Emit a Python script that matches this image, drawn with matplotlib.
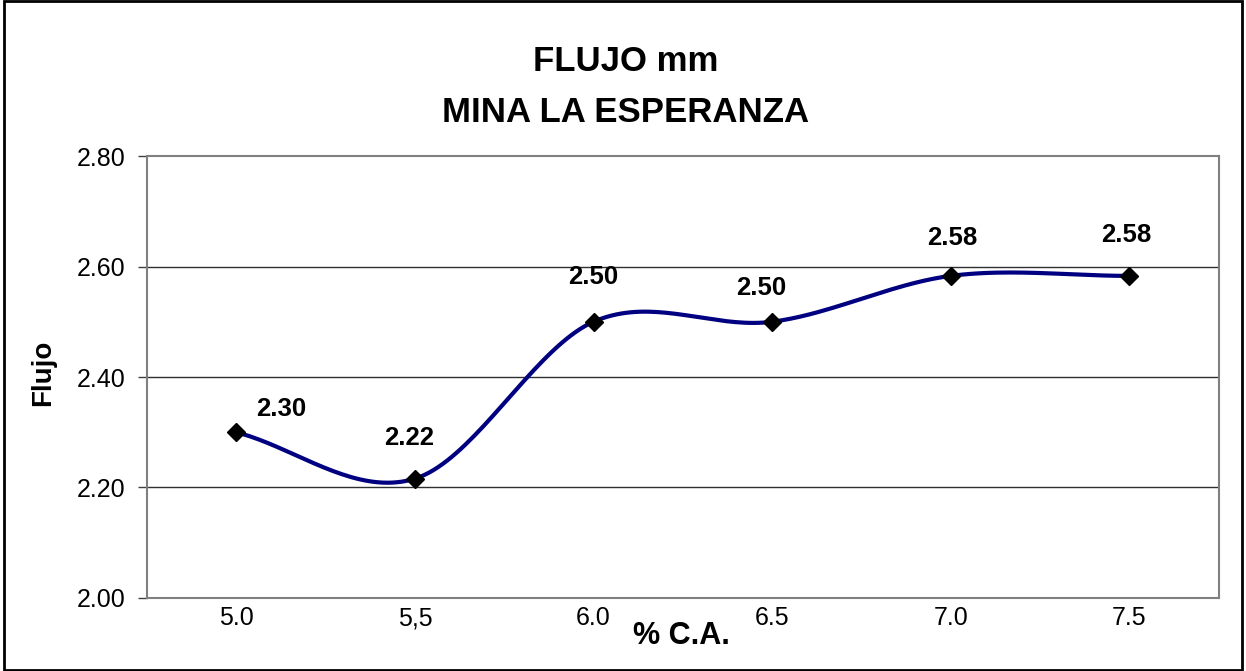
import numpy as np
import matplotlib
matplotlib.use("Agg")
import matplotlib.pyplot as plt
from matplotlib.patches import Rectangle

plt.rcParams['font.family'] = ['Liberation Sans', 'DejaVu Sans']

# data: flow vs asphalt content
categorias = ['5.0', '5,5', '6.0', '6.5', '7.0', '7.5']
flujo = [2.30, 2.216, 2.50, 2.50, 2.583, 2.583]
etiquetas = ['2.30', '2.22', '2.50', '2.50', '2.58', '2.58']
# label offsets in points (dx, dy)
desplaz = [(32, 17), (-4, 29), (0, 32), (-8, 24), (1, 27), (-2.5, 29.5)]


def catmull_rom(x, y, n=40):
    # smooth curve through every point, like the spreadsheet "smoothed line"
    x = np.asarray(x, float)
    y = np.asarray(y, float)
    px = np.concatenate([[2 * x[0] - x[1]], x, [2 * x[-1] - x[-2]]])
    py = np.concatenate([[2 * y[0] - y[1]], y, [2 * y[-1] - y[-2]]])
    xs, ys = [], []
    t = np.linspace(0, 1, n)
    for i in range(1, len(px) - 2):
        for p, out in ((px, xs), (py, ys)):
            p0, p1, p2, p3 = p[i - 1], p[i], p[i + 1], p[i + 2]
            out.extend(0.5 * ((2 * p1) + (-p0 + p2) * t
                              + (2 * p0 - 5 * p1 + 4 * p2 - p3) * t ** 2
                              + (-p0 + 3 * p1 - 3 * p2 + p3) * t ** 3))
    return np.array(xs), np.array(ys)


fig = plt.figure(figsize=(12.46, 6.71), dpi=100)
ax = fig.add_axes([0.118, 0.1088, 0.860, 0.6587])

x = np.arange(len(categorias))
sx, sy = catmull_rom(x, flujo)
ax.plot(sx, sy, color='#000080', lw=3, zorder=3, solid_capstyle='round')
ax.plot(x, flujo, ls='none', marker='D', ms=9, color='black', zorder=4)

for xi, yi, txt, (dx, dy) in zip(x, flujo, etiquetas, desplaz):
    ax.annotate(txt, (xi, yi), xytext=(dx, dy), textcoords='offset points',
                ha='center', va='center', fontsize=18.5, fontweight='bold')

ax.set_xlim(-0.5, len(categorias) - 0.5)
ax.set_ylim(2.0, 2.8)
ax.set_yticks([2.0, 2.2, 2.4, 2.6, 2.8])
ax.set_yticklabels(['2.00', '2.20', '2.40', '2.60', '2.80'], fontsize=18)
ax.set_xticks(x)
ax.set_xticklabels(categorias, fontsize=18)
ax.tick_params(axis='x', length=0, pad=6)
ax.tick_params(axis='y', length=6.5, width=1, color='#404040', pad=9)

for yv in [2.2, 2.4, 2.6]:
    ax.axhline(yv, color='#303030', lw=1, zorder=1)
for s in ax.spines.values():
    s.set_color('#808080')
    s.set_linewidth(1.5)

fig.text(43 / 1246, 1 - 373 / 671, 'Flujo', rotation=90, ha='center', va='center',
         fontsize=20, fontweight='bold')
fig.text(681.5 / 1246, 1 - 636 / 671, '% C.A.', ha='center', va='center',
         fontsize=22, fontweight='bold')

fig.text(0.502, 0.908, 'FLUJO mm', ha='center', va='center',
         fontsize=25, fontweight='bold')
fig.text(0.502, 0.833, 'MINA LA ESPERANZA', ha='center', va='center',
         fontsize=25, fontweight='bold')

# outer chart frame
fig.patches.append(Rectangle((0.003, 0.002), 0.994, 0.996, transform=fig.transFigure,
                             fill=False, edgecolor='black', lw=2))

fig.savefig('out.png', dpi=100)
